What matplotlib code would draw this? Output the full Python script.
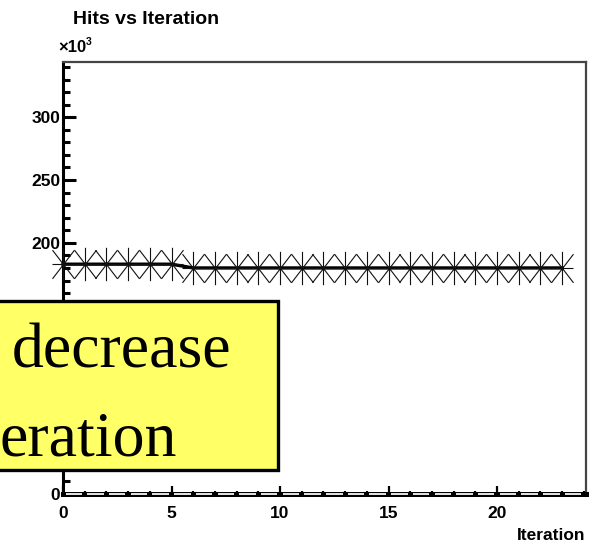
import matplotlib
matplotlib.use("Agg")
import matplotlib.pyplot as plt
import numpy as np
from matplotlib.path import Path
from matplotlib.patches import Rectangle
from matplotlib.ticker import MultipleLocator, FuncFormatter

# hits recorded at each iteration
iterations = np.arange(24)
hits = [183000, 183000, 183000, 183000, 183000, 183000,
        180000, 180000, 180000, 180000, 180000, 180000,
        180000, 180000, 180000, 180000, 180000, 180000,
        180000, 180000, 180000, 180000, 180000, 180000]

title = "Hits vs Iteration"
xlabel = "Iteration"
note_lines = ["decrease", "eration"]

W, H, DPI = 598, 544, 100
plt.rcParams["font.family"] = ["Liberation Sans", "DejaVu Sans"]


def fx(px):
    return px / W


def fy(py):
    return 1 - py / H


fig = plt.figure(figsize=(W / DPI, H / DPI), dpi=DPI)
ax = fig.add_axes([fx(63), fy(494), fx(586) - fx(63), fy(62) - fy(494)])

# asterisk-style marker: vertical bar, horizontal bar and two long diagonals
verts = [(0, -1), (0, 1),
         (-0.66, 0), (0.66, 0),
         (-0.66, -0.86), (0.66, 0.86),
         (-0.66, 0.86), (0.66, -0.86)]
codes = [Path.MOVETO, Path.LINETO] * 4
star = Path(verts, codes)

ax.plot(iterations, hits, color="black", lw=2.4, zorder=3, clip_on=False)
ax.plot(iterations, hits, linestyle="none", marker=star, markersize=24,
        markeredgewidth=0.8, markeredgecolor="#111111", markerfacecolor="none",
        zorder=4, clip_on=False)

ax.set_xlim(0, 24.1)
ax.set_ylim(0, 344000)

# labels hidden behind the callout box are left blank
hidden = {50, 100, 150}


def kfmt(v, p):
    k = int(round(v / 1000))
    return "" if k in hidden else f"{k}"


ax.xaxis.set_major_locator(MultipleLocator(5))
ax.xaxis.set_minor_locator(MultipleLocator(1))
ax.yaxis.set_major_locator(MultipleLocator(50000))
ax.yaxis.set_minor_locator(MultipleLocator(10000))
ax.yaxis.set_major_formatter(FuncFormatter(kfmt))

ax.tick_params(axis="x", which="major", direction="in", length=6, width=1.6,
               labelsize=12.5, pad=9, top=False)
ax.tick_params(axis="x", which="minor", direction="in", length=2.5, width=1.6,
               top=False)
ax.tick_params(axis="y", which="major", direction="in", length=9, width=2.2,
               labelsize=12.5, pad=2, right=False)
ax.tick_params(axis="y", which="minor", direction="in", length=5, width=2.2,
               right=False)
for lab in ax.get_xticklabels() + ax.get_yticklabels():
    lab.set_fontweight("bold")

ax.spines["left"].set_linewidth(2.2)
ax.spines["left"].set_color("black")
ax.spines["bottom"].set_linewidth(3.6)
ax.spines["bottom"].set_color("black")
for side in ("top", "right"):
    ax.spines[side].set_linewidth(1.6)
    ax.spines[side].set_color("#444444")

# light dashes inside the thick bottom axis, broken at every minor tick
segs = np.arange(0, 24)
ax.hlines(np.zeros(len(segs)), segs + 0.12, segs + 0.88, color="#e6e6e6",
          lw=1.4, zorder=6, clip_on=False)

fig.text(fx(73), fy(20), title, fontsize=14, fontweight="bold",
         ha="left", va="center")
fig.text(fx(58), fy(48), "\u00d710", fontsize=12, fontweight="bold",
         ha="left", va="center")
fig.text(fx(86), fy(42), "3", fontsize=7.5, fontweight="bold",
         ha="left", va="center")
fig.text(fx(585), fy(535), xlabel, fontsize=12.5, fontweight="bold",
         ha="right", va="center")

# yellow callout box
box = Rectangle((fx(-20), fy(470)), fx(277.5) - fx(-20), fy(300.5) - fy(470),
                transform=fig.transFigure, facecolor="#ffff66",
                edgecolor="black", lw=2.4, zorder=10)
fig.add_artist(box)
fig.text(fx(12), fy(367), note_lines[0], fontsize=46,
         family=["Liberation Serif", "DejaVu Serif"],
         ha="left", va="baseline", zorder=11)
fig.text(fx(-1), fy(455), note_lines[1], fontsize=46,
         family=["Liberation Serif", "DejaVu Serif"],
         ha="left", va="baseline", zorder=11)

fig.savefig("out.png", dpi=DPI)
